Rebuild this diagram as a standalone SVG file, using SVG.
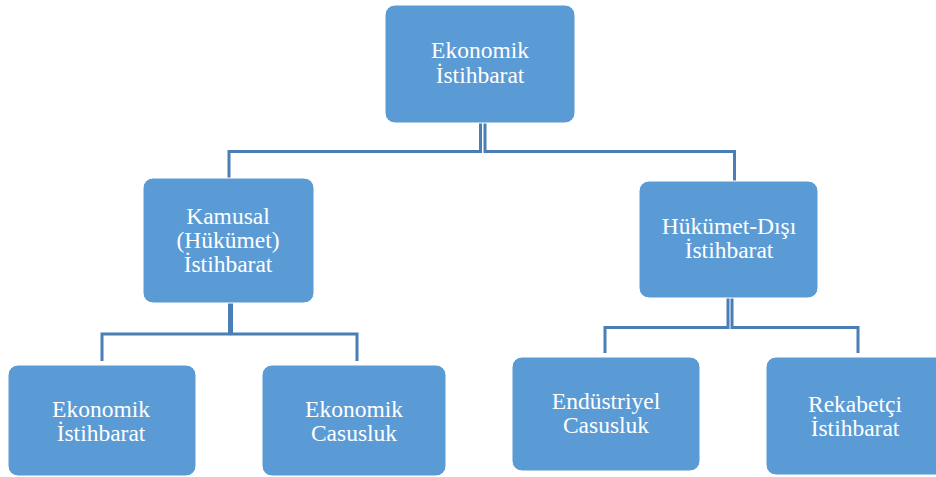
<svg xmlns="http://www.w3.org/2000/svg" width="936" height="477" viewBox="0 0 936 477">
<style>
.box{fill:#5b9bd5;stroke:#ffffff;stroke-width:1}
.t{font-family:"Liberation Serif","Times New Roman",serif;font-size:23.5px;fill:#ffffff;text-anchor:middle}
.c{fill:none;stroke:#4a7fb5;stroke-width:3}
</style>
<rect width="936" height="477" fill="#ffffff"/>
<g id="connectors">
<path class="c" d="M480.5 123 V151.5 H229 V178"/>
<path class="c" d="M485 123 V151.5 H734.5 V181"/>
<path class="c" d="M229.5 303 V334 H102 V361"/>
<path class="c" d="M231.5 303 V334 H357 V361"/>
<path class="c" d="M728 298 V327.5 H605 V353"/>
<path class="c" d="M732 298 V327.5 H858 V353"/>
</g>
<g id="n-top">
<rect class="box" x="385" y="5" width="190" height="118" rx="10"/>
<text class="t" x="480" y="58">Ekonomik</text>
<text class="t" x="480" y="83">İstihbarat</text>
</g>
<g id="n-kamusal">
<rect class="box" x="143" y="178" width="171" height="125" rx="10"/>
<text class="t" x="228" y="224">Kamusal</text>
<text class="t" x="228" y="248">(Hükümet)</text>
<text class="t" x="228" y="272">İstihbarat</text>
</g>
<g id="n-hukumetdisi">
<rect class="box" x="639" y="181" width="179" height="117" rx="10"/>
<text class="t" x="729" y="234">Hükümet-Dışı</text>
<text class="t" x="729" y="258">İstihbarat</text>
</g>
<g id="n-ekist">
<rect class="box" x="8" y="365" width="188" height="111" rx="10"/>
<text class="t" x="101" y="417">Ekonomik</text>
<text class="t" x="101" y="441">İstihbarat</text>
</g>
<g id="n-ekcas">
<rect class="box" x="262" y="365" width="184" height="111" rx="10"/>
<text class="t" x="354" y="417">Ekonomik</text>
<text class="t" x="354" y="441">Casusluk</text>
</g>
<g id="n-endcas">
<rect class="box" x="512" y="357" width="188" height="114" rx="10"/>
<text class="t" x="606" y="409">Endüstriyel</text>
<text class="t" x="606" y="433">Casusluk</text>
</g>
<g id="n-rekist">
<rect class="box" x="766" y="357" width="190" height="118" rx="10"/>
<text class="t" x="855" y="412">Rekabetçi</text>
<text class="t" x="855" y="436">İstihbarat</text>
</g>
</svg>
